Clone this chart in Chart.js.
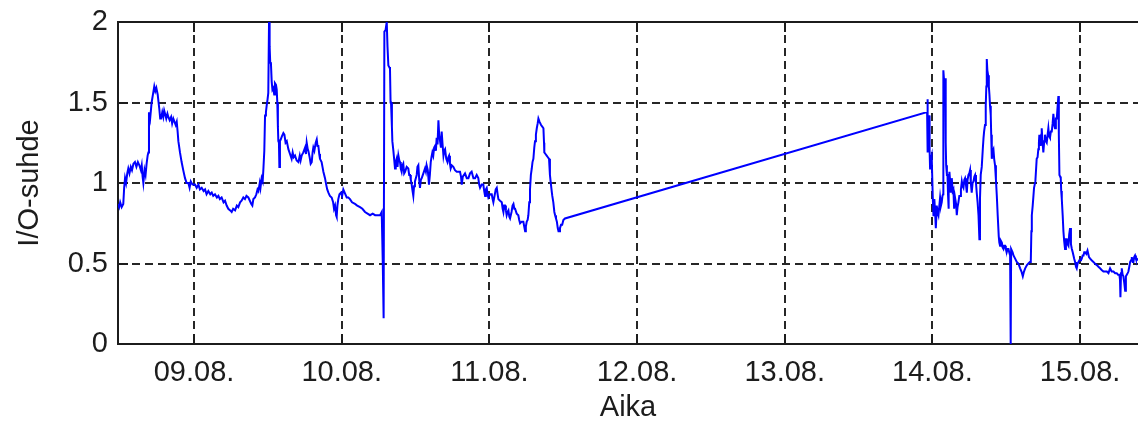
<!DOCTYPE html>
<html>
<head>
<meta charset="utf-8">
<script src="https://cdn.jsdelivr.net/npm/chart.js@4/dist/chart.umd.min.js"></script>
<style>
  html, body { margin: 0; padding: 0; background: #ffffff; overflow: hidden; }
  canvas { display: block; }
</style>
</head>
<body>
<canvas id="c" width="1138" height="425"></canvas>
<script>
// Time in days (09.08. = 1, 10.08. = 2, ...)
const dayTimes = [
0.485,0.493,0.500,0.510,0.521,0.527,0.533,0.540,0.548,0.555,0.563,0.572,0.580,0.590,0.600,0.610,0.620,0.630,0.640,0.646,
0.652,0.657,0.665,0.672,0.679,0.686,0.691,0.695,0.703,0.713,0.722,0.731,0.738,0.745,0.754,0.760,0.765,0.771,0.777,0.785,
0.792,0.798,0.804,0.812,0.820,0.826,0.835,0.845,0.852,0.860,0.868,0.876,0.883,0.889,0.894,0.905,0.916,0.927,0.939,0.950,
0.962,0.970,0.978,0.990,1.007,1.018,1.030,1.040,1.052,1.065,1.075,1.085,1.097,1.110,1.120,1.130,1.142,1.155,1.165,1.175,
1.187,1.200,1.210,1.221,1.232,1.245,1.255,1.265,1.278,1.290,1.300,1.312,1.322,1.334,1.345,1.355,1.368,1.378,1.388,1.395,
1.402,1.413,1.422,1.430,1.436,1.445,1.450,1.458,1.465,1.470,1.476,1.481,1.487,1.492,1.498,1.503,1.508,1.512,1.516,1.521,
1.526,1.531,1.537,1.543,1.548,1.555,1.560,1.564,1.568,1.571,1.575,1.578,1.582,1.587,1.595,1.605,1.612,1.620,1.628,1.639,
1.650,1.661,1.668,1.675,1.684,1.695,1.707,1.716,1.722,1.729,1.740,1.752,1.758,1.763,1.770,1.774,1.783,1.790,1.797,1.803,
1.808,1.815,1.824,1.831,1.836,1.842,1.848,1.853,1.864,1.870,1.876,1.887,1.895,1.902,1.910,1.920,1.932,1.942,1.948,1.955,
1.962,1.966,1.971,1.977,1.985,1.995,2.003,2.011,2.020,2.034,2.045,2.056,2.070,2.090,2.105,2.124,2.140,2.158,2.175,2.192,
2.210,2.226,2.245,2.260,2.271,2.278,2.284,2.289,2.297,2.305,2.310,2.316,2.322,2.327,2.331,2.334,2.340,2.343,2.350,2.355,
2.361,2.366,2.372,2.378,2.384,2.390,2.395,2.400,2.406,2.412,2.417,2.423,2.429,2.440,2.451,2.457,2.463,2.468,2.474,2.480,
2.485,2.490,2.496,2.502,2.508,2.513,2.519,2.525,2.530,2.536,2.542,2.553,2.564,2.570,2.575,2.583,2.591,2.597,2.603,2.608,
2.614,2.620,2.626,2.632,2.638,2.643,2.649,2.655,2.660,2.666,2.672,2.677,2.683,2.689,2.694,2.700,2.708,2.716,2.722,2.727,
2.733,2.738,2.745,2.756,2.767,2.779,2.790,2.801,2.808,2.813,2.820,2.835,2.847,2.858,2.869,2.880,2.892,2.903,2.914,2.925,
2.931,2.937,2.948,2.959,2.965,2.971,2.976,2.982,2.988,2.993,3.005,3.016,3.022,3.027,3.035,3.043,3.050,3.056,3.061,3.072,
3.084,3.090,3.095,3.100,3.106,3.112,3.117,3.123,3.129,3.135,3.140,3.150,3.157,3.163,3.169,3.174,3.185,3.196,3.202,3.208,
3.219,3.230,3.236,3.242,3.247,3.253,3.259,3.264,3.270,3.275,3.281,3.287,3.292,3.298,3.304,3.309,3.315,3.321,3.327,3.332,
3.340,3.350,3.358,3.366,3.370,3.372,3.380,3.388,3.396,3.404,3.410,3.417,3.422,3.426,3.433,3.440,3.445,3.451,3.457,3.463,
3.468,3.472,3.478,3.485,3.493,3.501,3.512,
5.964,5.966,5.969,5.973,5.978,5.981,5.984,5.990,5.995,6.002,6.007,6.010,6.013,6.018,6.023,6.027,6.029,6.035,6.041,6.046,
6.052,6.058,6.063,6.068,6.072,6.074,6.080,6.086,6.090,6.093,6.098,6.102,6.106,6.108,6.112,6.115,6.120,6.124,6.128,6.131,
6.137,6.142,6.147,6.153,6.160,6.165,6.170,6.176,6.182,6.187,6.193,6.199,6.205,6.210,6.216,6.221,6.227,6.233,6.238,6.244,
6.250,6.255,6.260,6.266,6.272,6.278,6.284,6.289,6.295,6.300,6.306,6.312,6.318,6.322,6.327,6.334,6.341,6.346,6.350,6.356,
6.361,6.365,6.368,6.372,6.377,6.382,6.386,6.390,6.395,6.398,6.402,6.408,6.413,6.418,6.424,6.430,6.436,6.442,6.449,6.453,
6.458,6.464,6.470,6.475,6.481,6.486,6.492,6.497,6.503,6.509,6.515,6.520,6.526,6.530,6.533,6.537,6.543,6.549,6.560,6.571,
6.582,6.594,6.603,6.612,6.620,6.628,6.640,6.650,6.660,6.666,6.670,6.673,6.679,6.684,6.688,6.697,6.706,6.712,6.717,6.721,
6.724,6.728,6.733,6.737,6.740,6.746,6.751,6.757,6.762,6.768,6.774,6.780,6.785,6.790,6.796,6.802,6.808,6.814,6.819,6.825,
6.830,6.836,6.842,6.848,6.853,6.856,6.860,6.865,6.869,6.872,6.876,6.882,6.887,6.892,6.898,6.904,6.910,6.915,6.921,6.926,
6.932,6.938,6.944,6.950,6.955,6.960,6.966,6.972,6.977,6.983,6.989,6.995,7.000,7.006,7.011,7.017,7.023,7.028,7.034,7.042,
7.050,7.060,7.068,7.078,7.090,7.100,7.113,7.124,7.135,7.146,7.158,7.170,7.181,7.192,7.203,7.214,7.226,7.237,7.248,7.257,
7.266,7.270,7.273,7.277,7.282,7.288,7.293,7.299,7.305,7.310,7.316,7.322,7.327,7.333,7.339,7.345,7.350,7.356,7.361,7.366,
7.372,7.378,7.384,7.393
];

// I/O ratio values
const ioRatio = [
0.87,0.85,0.88,0.85,0.87,0.97,1.03,1.00,1.06,1.09,1.06,1.10,1.08,1.12,1.13,1.10,1.13,1.11,1.08,1.11,
1.04,1.00,1.08,1.05,1.12,1.17,1.19,1.44,1.40,1.50,1.55,1.60,1.57,1.59,1.55,1.50,1.46,1.40,1.40,1.44,
1.41,1.45,1.43,1.40,1.43,1.41,1.39,1.41,1.37,1.40,1.38,1.36,1.38,1.32,1.26,1.19,1.13,1.08,1.03,1.00,
1.00,0.97,1.01,0.99,0.99,0.97,0.99,0.96,0.97,0.95,0.96,0.93,0.95,0.93,0.94,0.92,0.93,0.91,0.92,0.90,
0.91,0.88,0.89,0.86,0.84,0.83,0.82,0.84,0.83,0.86,0.85,0.88,0.89,0.91,0.90,0.92,0.91,0.89,0.87,0.86,
0.90,0.91,0.93,0.96,0.95,1.00,0.97,1.03,1.01,1.09,1.20,1.42,1.44,1.48,1.52,1.56,2.00,1.85,1.75,1.74,
1.63,1.58,1.59,1.55,1.62,1.61,1.58,1.50,1.35,1.26,1.25,1.10,1.26,1.27,1.29,1.31,1.30,1.25,1.26,1.21,
1.18,1.15,1.19,1.16,1.17,1.14,1.13,1.17,1.14,1.17,1.19,1.22,1.18,1.25,1.21,1.20,1.16,1.12,1.13,1.19,
1.22,1.20,1.25,1.27,1.23,1.23,1.18,1.15,1.13,1.10,1.07,1.03,0.99,0.96,0.94,0.92,0.91,0.88,0.84,0.86,
0.80,0.79,0.86,0.90,0.93,0.94,0.92,0.96,0.94,0.91,0.91,0.90,0.88,0.87,0.86,0.85,0.84,0.82,0.81,0.80,
0.81,0.80,0.80,0.80,0.82,0.51,0.16,1.94,1.95,2.00,1.85,1.73,1.72,1.71,1.50,1.50,1.35,1.26,1.20,1.15,
1.09,1.13,1.15,1.10,1.17,1.14,1.13,1.09,1.07,1.11,1.12,1.06,1.07,1.10,1.09,1.05,1.05,1.02,0.99,0.95,
0.92,0.98,1.01,1.03,1.05,1.10,1.11,1.02,0.97,1.02,1.03,1.06,1.09,1.07,1.11,1.08,0.99,1.05,1.13,1.16,
1.19,1.17,1.22,1.23,1.20,1.28,1.24,1.39,1.30,1.26,1.22,1.32,1.24,1.17,1.20,1.21,1.15,1.13,1.16,1.17,
1.12,1.09,1.11,1.10,1.08,1.07,1.07,1.07,1.04,0.99,1.04,1.06,1.03,1.03,1.06,1.07,1.03,1.03,1.05,1.03,
0.99,0.97,0.99,0.99,0.95,0.92,0.96,0.97,0.93,0.91,0.93,0.93,0.90,0.88,0.92,0.96,0.97,0.93,0.90,0.89,
0.88,0.84,0.82,0.86,0.86,0.83,0.80,0.82,0.83,0.79,0.78,0.82,0.86,0.87,0.84,0.84,0.81,0.80,0.77,0.75,
0.76,0.76,0.73,0.70,0.73,0.76,0.77,0.80,0.88,0.96,1.05,1.09,1.13,1.15,1.22,1.26,1.30,1.34,1.37,1.40,
1.38,1.36,1.35,1.34,1.25,1.19,1.18,1.17,1.16,1.15,1.05,0.99,0.95,0.92,0.88,0.82,0.80,0.78,0.76,0.72,
0.70,0.70,0.72,0.74,0.74,0.77,0.78,
1.44,1.52,1.19,1.30,1.42,1.20,1.09,1.15,1.17,0.92,0.80,0.87,0.90,0.82,0.72,0.80,0.86,0.82,0.80,0.85,
0.91,0.86,0.88,0.92,0.93,1.70,1.62,1.65,1.25,1.11,1.05,1.05,0.92,0.84,0.96,1.07,1.01,0.94,0.98,1.03,
0.95,0.96,0.84,0.91,0.87,0.80,0.85,0.88,0.92,0.92,0.96,1.01,0.98,0.97,1.02,1.03,0.99,0.94,1.02,1.05,
1.06,1.08,1.00,0.94,1.00,1.01,1.04,1.05,1.00,0.94,0.88,0.80,0.65,0.90,1.05,1.10,1.21,1.28,1.32,1.36,
1.48,1.60,1.77,1.70,1.67,1.60,1.55,1.48,1.42,1.30,1.15,1.20,1.21,1.15,1.11,1.02,0.92,0.80,0.67,0.63,
0.61,0.64,0.63,0.60,0.59,0.61,0.61,0.59,0.57,0.59,0.59,0.57,0.55,0.00,0.59,0.59,0.57,0.55,0.53,0.51,
0.50,0.47,0.45,0.42,0.45,0.47,0.49,0.50,0.51,0.51,0.70,0.80,0.86,0.92,0.97,1.01,1.15,1.16,1.21,1.25,
1.30,1.27,1.23,1.30,1.34,1.25,1.19,1.26,1.30,1.26,1.25,1.30,1.34,1.29,1.28,1.32,1.32,1.37,1.43,1.36,
1.34,1.40,1.40,1.48,1.54,1.30,1.05,1.04,1.03,0.95,0.90,0.80,0.70,0.64,0.59,0.65,0.65,0.62,0.61,0.68,
0.72,0.62,0.59,0.57,0.55,0.53,0.51,0.48,0.47,0.50,0.51,0.52,0.52,0.53,0.53,0.55,0.55,0.57,0.57,0.56,
0.58,0.54,0.53,0.52,0.51,0.50,0.49,0.48,0.47,0.46,0.45,0.45,0.45,0.44,0.47,0.45,0.45,0.44,0.44,0.43,
0.43,0.40,0.29,0.44,0.47,0.43,0.42,0.38,0.33,0.42,0.43,0.44,0.45,0.48,0.51,0.52,0.54,0.51,0.51,0.54,
0.55,0.53,0.53,0.52
];

const xTickValues = [1, 2, 3, 4, 5, 6, 7];
const xTickLabels = ['09.08.', '10.08.', '11.08.', '12.08.', '13.08.', '14.08.', '15.08.'];
const yTickValues = [0, 0.5, 1, 1.5, 2];
const yTickLabels = ['0', '0.5', '1', '1.5', '2'];
const xLimits = [0.4853, 7.392];
const yLimits = [0, 2];
const xTitle = 'Aika';
const yTitle = 'I/O-suhde';

const points = dayTimes.map((t, i) => ({ x: t, y: ioRatio[i] }));

const textColor = '#1c1c1c';
const axisFont = { family: "'Liberation Sans', Arial, sans-serif", size: 29 };

const matlabBox = {
  id: 'matlabBox',
  beforeDatasetsDraw(chart) {
    const { ctx, chartArea } = chart;
    const xs = chart.scales.x, ys = chart.scales.y;
    const tick = 10;
    ctx.save();
    ctx.strokeStyle = '#1c1c1c';
    ctx.lineWidth = 2;
    ctx.setLineDash([]);
    ctx.beginPath();
    xTickValues.forEach(v => {
      const px = Math.round(xs.getPixelForValue(v));
      ctx.moveTo(px, chartArea.bottom);
      ctx.lineTo(px, chartArea.bottom - tick);
      ctx.moveTo(px, chartArea.top);
      ctx.lineTo(px, chartArea.top + tick);
    });
    yTickValues.forEach(v => {
      const py = Math.round(ys.getPixelForValue(v));
      ctx.moveTo(chartArea.left, py);
      ctx.lineTo(chartArea.left + tick, py);
    });
    ctx.stroke();
    ctx.beginPath();
    ctx.moveTo(chartArea.left - 1, chartArea.top);
    ctx.lineTo(chartArea.right + 2, chartArea.top);
    ctx.stroke();
    ctx.restore();
  }
};

new Chart(document.getElementById('c'), {
  type: 'line',
  data: {
    datasets: [{
      data: points,
      borderColor: '#0000ff',
      borderWidth: 2,
      pointRadius: 0,
      tension: 0,
      fill: false
    }]
  },
  options: {
    responsive: false,
    animation: false,
    devicePixelRatio: 1,
    parsing: false,
    layout: { padding: { top: 22, right: 0, left: 0, bottom: 0 } },
    plugins: { legend: { display: false }, tooltip: { enabled: false } },
    scales: {
      x: {
        type: 'linear',
        min: xLimits[0],
        max: xLimits[1],
        afterBuildTicks: s => { s.ticks = xTickValues.map(v => ({ value: v })); },
        afterFit: s => { s.height = 81; s.paddingLeft = 0; s.paddingRight = 0; },
        ticks: {
          callback: (v, i) => xTickLabels[i],
          font: axisFont,
          color: textColor,
          padding: 12,
          maxRotation: 0,
          autoSkip: false
        },
        grid: { color: '#262626', lineWidth: 2, drawTicks: false },
        border: { display: true, color: '#1c1c1c', width: 2, dash: [8, 5] },
        title: { display: true, text: xTitle, font: axisFont, color: textColor, padding: { top: 0, bottom: 0 } }
      },
      y: {
        type: 'linear',
        min: yLimits[0],
        max: yLimits[1],
        afterBuildTicks: s => { s.ticks = yTickValues.map(v => ({ value: v })); },
        afterFit: s => { s.width = 118; s.paddingTop = 0; s.paddingBottom = 0; },
        ticks: {
          callback: (v, i) => yTickLabels[i],
          font: axisFont,
          color: textColor,
          padding: 10,
          autoSkip: false
        },
        grid: { color: '#262626', lineWidth: 2, drawTicks: false },
        border: { display: true, color: '#1c1c1c', width: 2, dash: [8, 5] },
        title: { display: true, text: yTitle, font: axisFont, color: textColor, padding: { top: 13, bottom: 0 } }
      }
    }
  },
  plugins: [matlabBox]
});
</script>
</body>
</html>
